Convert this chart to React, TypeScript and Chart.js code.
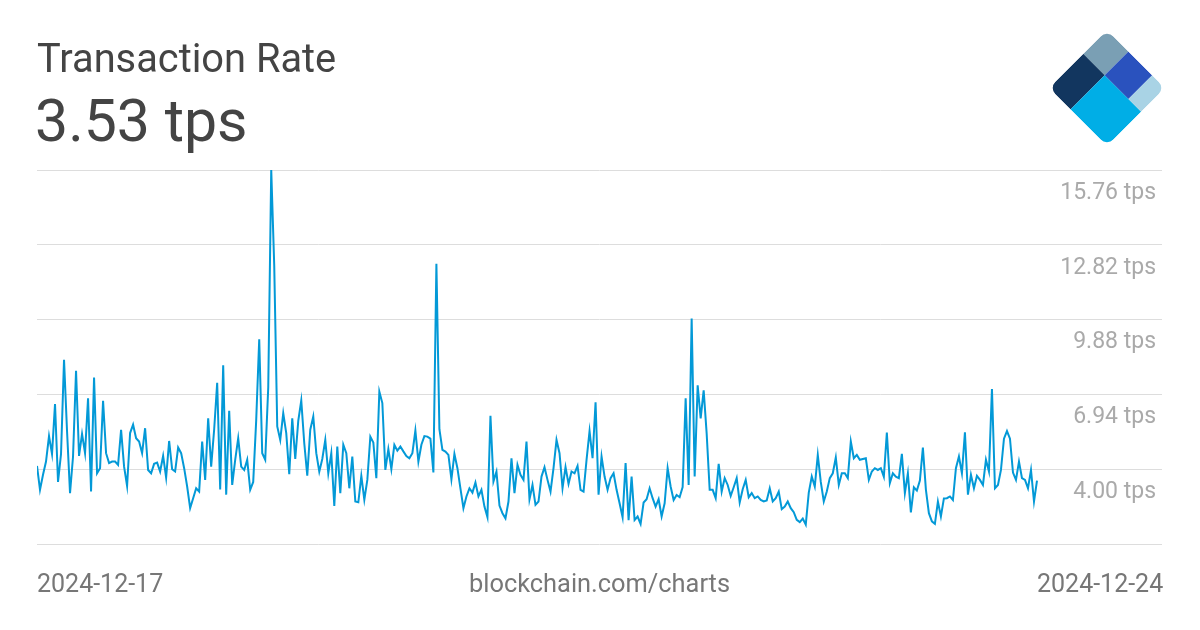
import React, { useEffect, useRef } from 'react';
import { Chart, registerables } from 'chart.js';

Chart.register(...registerables);

const chartTitle = 'Transaction Rate';
const headline = '3.53 tps';
const sourceLabel = 'blockchain.com/charts';
const dateLabels = ['2024-12-17', '2024-12-24'];
const yTickValues = [1.06, 4.0, 6.94, 9.88, 12.82, 15.76];
const yTickLabels = ['', '4.00 tps', '6.94 tps', '9.88 tps', '12.82 tps', '15.76 tps'];

// transactions per second, sampled evenly from 2024-12-17 to 2024-12-24
const txRate = [
  4.13, 3.19, 3.78, 4.3, 5.3, 4.6, 6.56, 3.5, 4.6, 8.3, 5.5, 3.06, 4.5, 7.87, 4.52, 5.39, 4.63, 6.79, 3.12, 7.6,
  3.84, 4.04, 6.69, 4.63, 4.24, 4.3, 4.3, 4.17, 5.55, 4.1, 3.34, 5.42, 5.75, 5.22, 5.09, 4.63, 5.61, 3.97, 3.84, 4.21,
  4.26,
  3.91, 4.52, 3.67, 5.11, 4.0, 3.91, 4.85, 4.63, 4.04, 3.32, 2.47, 2.86, 3.25, 3.12, 5.09, 3.58, 6.0, 4.1, 5.57, 7.4,
  3.2, 8.08, 3.0, 6.3, 3.38, 4.37, 5.22, 4.1, 3.97, 4.37, 3.19, 3.5, 5.94, 9.11, 4.63, 4.37, 7.2, 15.76, 12.0, 5.68,
  5.15, 6.2,
  5.42, 3.8, 6.0, 4.4, 5.9, 6.7, 5.02, 3.75, 5.55, 6.07, 4.63, 3.9, 4.4, 5.15, 3.84, 4.63, 2.56, 4.89, 3.06, 4.96,
  4.63, 3.25, 4.5, 2.73, 2.7, 3.74, 2.8, 3.58, 5.28, 5.05, 3.65, 7.05, 6.6, 3.97, 4.79, 4.0, 4.96, 4.73, 4.89, 4.7,
  4.52, 4.43,
  4.63, 5.52, 4.3, 4.96, 5.3, 5.28, 5.2, 3.87, 12.07, 5.57, 4.76, 4.69, 4.56, 3.6, 4.6, 4.04, 3.25, 2.47, 2.93, 3.25,
  3.08, 3.48, 2.93, 3.19, 2.53, 2.11, 6.1, 3.52, 3.9, 2.57, 2.27, 2.07, 2.73, 4.43, 3.06, 4.17, 3.78, 3.58, 5.09, 2.82,
  3.38, 2.6,
  2.73, 3.71, 4.08, 3.58, 3.12, 4.04, 5.15, 4.63, 3.25, 4.08, 3.42, 3.91, 3.84, 4.13, 3.19, 3.12, 4.37, 5.5, 4.43, 6.63,
  3.0, 4.5, 3.71, 3.19, 3.65, 3.84, 3.19, 2.66, 2.11, 4.24, 2.0, 3.71, 2.0, 2.14, 1.85, 2.69, 2.82, 3.25, 2.86, 2.53,
  2.82, 2.14,
  2.66, 4.04, 3.32, 2.79, 2.99, 2.9, 3.3, 6.79, 3.38, 9.92, 3.71, 7.3, 6.0, 7.1, 5.4, 3.19, 3.19, 2.86, 4.21, 3.12,
  3.65, 3.38, 2.95, 3.29, 3.65, 2.69, 3.21, 3.58, 2.9, 3.06, 2.86, 2.93, 2.79, 2.73, 2.77, 3.25, 2.73, 2.86, 3.12, 2.43,
  2.53, 2.73,
  2.47, 2.31, 2.01, 1.92, 2.06, 1.82, 3.08, 3.71, 3.32, 4.56, 3.5, 2.73, 3.12, 3.65, 3.84, 4.46, 3.38, 3.84, 3.84, 3.65,
  5.09, 4.43, 4.56, 4.37, 4.4, 4.43, 3.58, 3.91, 4.04, 3.97, 4.04, 3.7, 5.44, 3.45, 3.84, 3.71, 3.65, 4.6, 3.06, 3.84,
  2.3, 3.29,
  3.16, 3.55, 4.85, 3.2, 2.27, 1.95, 1.85, 2.73, 2.14, 2.85, 2.86, 2.93, 2.79, 4.04, 4.5, 3.84, 5.45, 3.0, 3.78, 3.25,
  3.74, 3.58, 3.38, 4.37, 3.91, 7.15, 3.25, 3.38, 3.97, 5.2, 5.5, 5.2, 3.87, 3.58, 4.3, 3.65, 3.58, 3.25, 3.97, 2.73,
  3.55,
];

function Logo() {
  const S = 82;
  const sx = S * 0.37;
  const sy = S * 0.41;
  const lx = S * 0.78;
  return (
    <svg width={120} height={120} style={{ position: 'absolute', left: 1046.5, top: 27.5 }}>
      <defs>
        <clipPath id="logoClip">
          <rect x={0} y={0} width={S} height={S} rx={9} ry={9} />
        </clipPath>
      </defs>
      <g transform={`translate(60,60) rotate(45) translate(${-S / 2},${-S / 2})`}>
        <g clipPath="url(#logoClip)">
          <rect x={0} y={0} width={sx} height={sy} fill="#7a9fb4" />
          <rect x={0} y={sy} width={sx} height={S - sy} fill="#12365f" />
          <rect x={sx} y={sy} width={S - sx} height={S - sy} fill="#00aee6" />
          <rect x={sx} y={0} width={lx - sx} height={sy} fill="#2a52be" />
          <rect x={lx} y={0} width={S - lx} height={sy} fill="#a9d3e5" />
        </g>
      </g>
    </svg>
  );
}

export default function App() {
  const canvasRef = useRef<HTMLCanvasElement>(null);

  useEffect(() => {
    const n = txRate.length;
    const chart = new Chart(canvasRef.current as HTMLCanvasElement, {
      type: 'line',
      data: {
        datasets: [
          {
            data: txRate.map((v, i) => ({ x: i, y: v })),
            borderColor: '#0399d7',
            borderWidth: 2,
            pointRadius: 0,
            tension: 0,
            fill: false,
          },
        ],
      },
      options: {
        responsive: false,
        animation: false,
        devicePixelRatio: 1,
        layout: { padding: { left: 37, right: 38, top: 170, bottom: 26 } },
        plugins: { legend: { display: false }, tooltip: { enabled: false } },
        scales: {
          x: {
            type: 'linear',
            min: 0,
            max: (n - 1) * 1.125,
            grid: { display: false, drawTicks: false },
            border: { display: false },
            afterBuildTicks: (s: any) => {
              s.ticks = [{ value: 0 }, { value: n - 1 }];
            },
            afterFit: (s: any) => {
              s.height = 60;
            },
            title: {
              display: true,
              text: sourceLabel,
              color: '#777',
              font: { family: 'Roboto', size: 25.4 },
              padding: { top: 0, bottom: 3 },
            },
            ticks: {
              autoSkip: false,
              maxRotation: 0,
              minRotation: 0,
              align: 'start',
              padding: 26.5,
              color: '#777',
              font: { family: 'Roboto', size: 25 },
              callback: (_v: any, idx: number) => dateLabels[idx],
            },
          },
          y: {
            position: 'right',
            min: 1.06,
            max: 15.76,
            grid: { color: '#dddddd', lineWidth: 1, drawTicks: false },
            border: { display: false },
            afterBuildTicks: (s: any) => {
              s.ticks = yTickValues.map((v) => ({ value: v }));
            },
            afterFit: (s: any) => {
              s.width = 0;
            },
            ticks: {
              mirror: true,
              padding: -6,
              labelOffset: 23,
              color: '#aaaaaa',
              font: { family: 'Roboto', size: 23 },
              callback: (_v: any, idx: number) => yTickLabels[idx],
            },
          },
        },
      },
    } as any);
    return () => chart.destroy();
  }, []);

  return (
    <div
      style={{
        position: 'fixed',
        left: 0,
        top: 0,
        width: 1200,
        height: 630,
        background: '#ffffff',
        overflow: 'hidden',
        fontFamily: 'Roboto, sans-serif',
      }}
    >
      <canvas ref={canvasRef} width={1200} height={630} style={{ position: 'absolute', left: 0, top: 0 }} />
      <div
        style={{
          position: 'absolute',
          left: 37,
          top: 39,
          fontSize: 39.8,
          lineHeight: 1,
          color: '#444444',
          whiteSpace: 'nowrap',
        }}
      >
        {chartTitle}
      </div>
      <div
        style={{
          position: 'absolute',
          left: 35,
          top: 91.3,
          fontSize: 59,
          lineHeight: 1,
          color: '#444444',
          whiteSpace: 'nowrap',
        }}
      >
        {headline}
      </div>
      <Logo />
    </div>
  );
}
